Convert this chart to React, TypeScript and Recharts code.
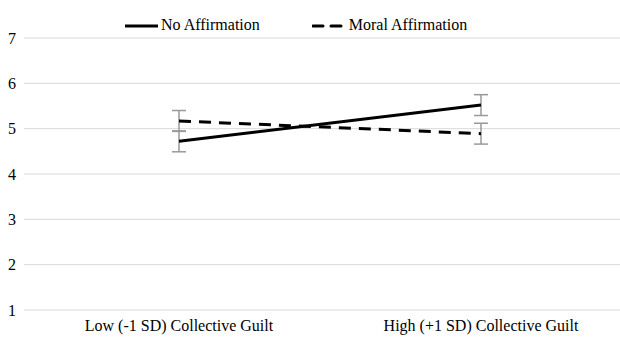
import { LineChart, Line, XAxis, YAxis, CartesianGrid, ErrorBar, Legend } from "recharts";

const categories = ["Low (-1 SD) Collective Guilt", "High (+1 SD) Collective Guilt"];
const noAffirmation = [4.72, 5.52];
const noAffirmationErr = [0.23, 0.23];
const moralAffirmation = [5.17, 4.89];
const moralAffirmationErr = [0.23, 0.23];
const yTicks = [1, 2, 3, 4, 5, 6, 7];

const data = categories.map((name, i) => ({
  name,
  noAff: noAffirmation[i],
  noAffErr: noAffirmationErr[i],
  moral: moralAffirmation[i],
  moralErr: moralAffirmationErr[i],
}));

const FONT = "Liberation Serif";

function LegendContent() {
  return (
    <div style={{ display: "flex", height: 18, lineHeight: "18px", paddingLeft: 125, fontFamily: FONT, fontSize: 16, color: "#000" }}>
      <svg width={34} height={10} style={{ marginTop: 5 }}>
        <line x1={0} y1={5} x2={33} y2={5} stroke="#000" strokeWidth={3} />
      </svg>
      <span style={{ marginLeft: 2 }}>No Affirmation</span>
      <svg width={32} height={10} style={{ marginLeft: 52, marginTop: 5 }}>
        <line x1={1} y1={5} x2={31} y2={5} stroke="#000" strokeWidth={3} strokeDasharray="10 8" strokeLinecap="round" />
      </svg>
      <span style={{ marginLeft: 5 }}>Moral Affirmation</span>
    </div>
  );
}

export default function App() {
  return (
    <div style={{ position: "absolute", left: 0, top: 0, width: 620, height: 338, background: "#fff", fontFamily: FONT }}>
      <LineChart width={620} height={338} data={data} margin={{ top: 20, right: 0, bottom: 0, left: 0 }}>
        <CartesianGrid vertical={false} stroke="#d9d9d9" strokeWidth={1} />
        <Legend verticalAlign="top" height={18} content={<LegendContent />} wrapperStyle={{ top: 16, left: 0, width: 620 }} />
        <XAxis
          dataKey="name"
          axisLine={false}
          tickLine={false}
          height={28}
          padding={{ left: 155, right: 139 }}
          tick={{ fontFamily: FONT, fontSize: 16, fill: "#000" }}
          tickMargin={4}
        />
        <YAxis
          domain={[1, 7]}
          ticks={yTicks}
          axisLine={false}
          tickLine={false}
          width={24}
          tick={{ fontFamily: FONT, fontSize: 16, fill: "#000" }}
        />
        <Line dataKey="noAff" stroke="#000" strokeWidth={3} dot={false} isAnimationActive={false}>
          <ErrorBar dataKey="noAffErr" width={7} stroke="#999" strokeWidth={1.5} />
        </Line>
        <Line dataKey="moral" stroke="#000" strokeWidth={3} strokeDasharray="12 8" dot={false} isAnimationActive={false}>
          <ErrorBar dataKey="moralErr" width={7} stroke="#999" strokeWidth={1.5} />
        </Line>
      </LineChart>
    </div>
  );
}
